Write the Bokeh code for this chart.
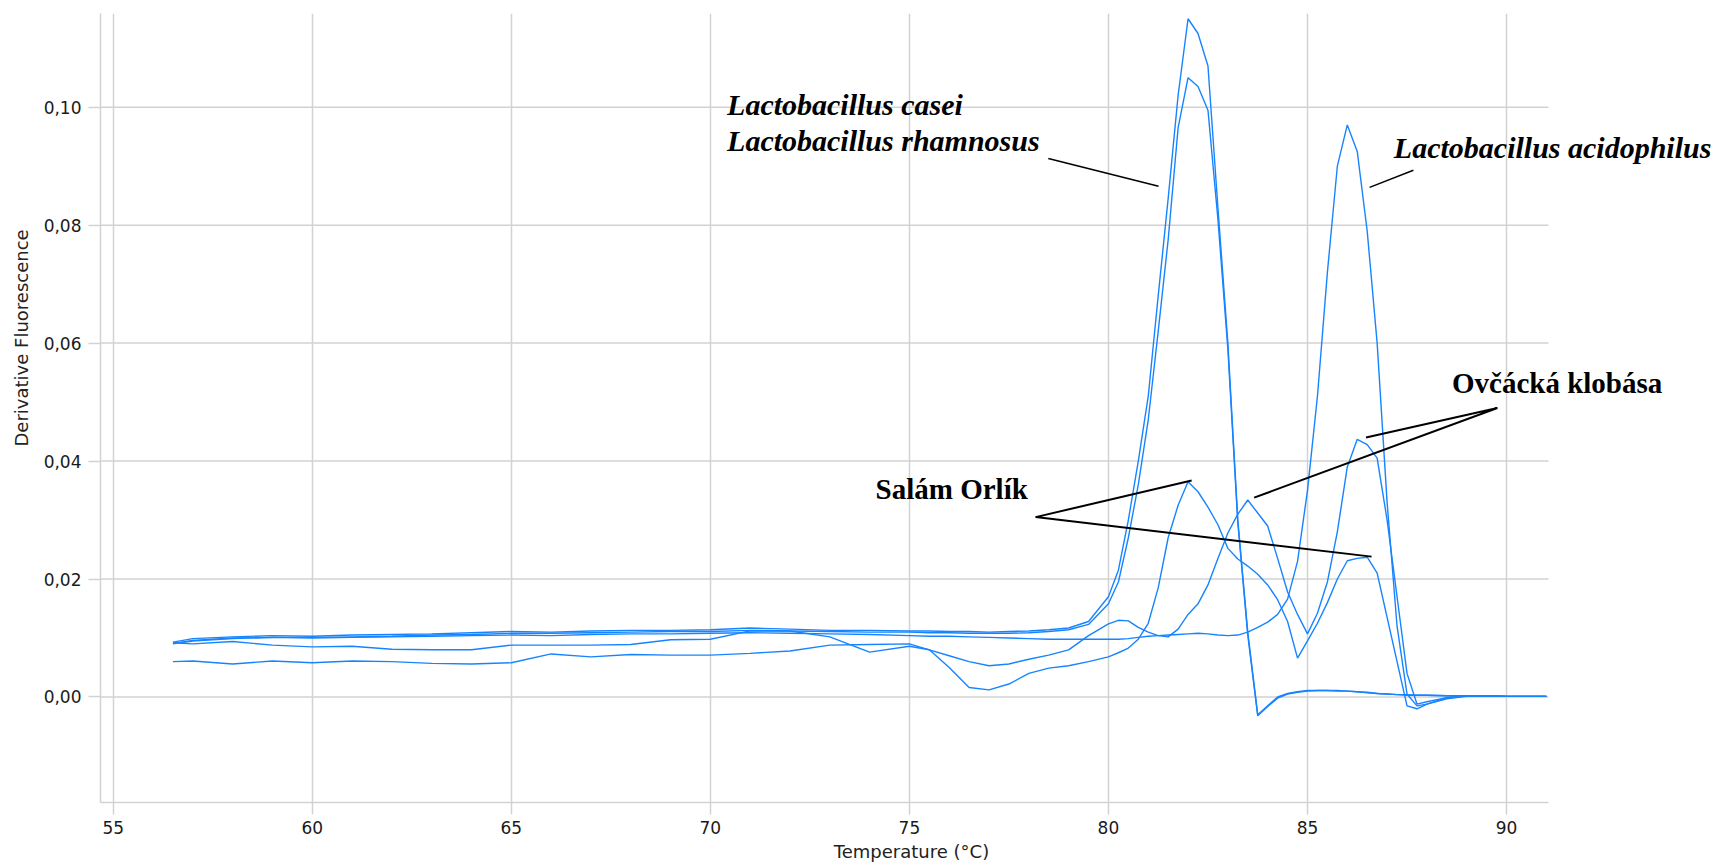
from bokeh.plotting import figure
from bokeh.models import Label, FixedTicker, CustomJSTickFormatter, Range1d, Title
from bokeh.embed import file_html
from bokeh.resources import INLINE

# ---------------- data ----------------
temperature = [56.5, 57, 58, 59, 60, 61, 62, 63, 64, 65, 66, 67, 68, 69, 70, 71, 72, 73, 74, 75,
               75.5, 76, 76.5, 77, 77.5, 78, 78.5, 79, 79.5, 80, 80.25, 80.5, 80.75, 81, 81.25,
               81.5, 81.75, 82, 82.25, 82.5, 82.75, 83, 83.25, 83.5, 83.75, 84, 84.25, 84.5, 84.75,
               85, 85.25, 85.5, 85.75, 86, 86.25, 86.5, 86.75, 87, 87.25, 87.5, 87.75, 88, 88.5,
               89, 89.5, 90, 91]

casei = [0.0093, 0.0099, 0.0102, 0.0104, 0.0103, 0.0105, 0.0106, 0.0107, 0.0109, 0.0111, 0.0110,
         0.0112, 0.0113, 0.0113, 0.0114, 0.0117, 0.0115, 0.0113, 0.0113, 0.0112,
         0.0112, 0.0111, 0.0111, 0.0110, 0.0111, 0.0112, 0.0114, 0.0117, 0.0128, 0.0170, 0.0215,
         0.0300, 0.0400, 0.0510, 0.0680, 0.0845, 0.1020, 0.1150, 0.1125, 0.1070, 0.0830, 0.0600,
         0.0300, 0.0110, -0.0030, -0.0015, 0.0000, 0.0006, 0.0009,
         0.0011, 0.0011, 0.0011, 0.0011, 0.0010, 0.0009, 0.0007, 0.0006, 0.0005, 0.0004, 0.0004,
         0.0003, 0.0003, 0.0002, 0.0002, 0.0002, 0.0001, 0.0001]

rhamnosus = [0.0090, 0.0095, 0.0099, 0.0101, 0.0101, 0.0102, 0.0103, 0.0105, 0.0106, 0.0108, 0.0108,
             0.0109, 0.0110, 0.0111, 0.0111, 0.0113, 0.0112, 0.0111, 0.0110, 0.0110,
             0.0109, 0.0109, 0.0108, 0.0108, 0.0108, 0.0109, 0.0111, 0.0114, 0.0123, 0.0158, 0.0195,
             0.0270, 0.0360, 0.0470, 0.0620, 0.0775, 0.0965, 0.1050, 0.1035, 0.0995, 0.0810, 0.0590,
             0.0295, 0.0105, -0.0032, -0.0016, -0.0002, 0.0005, 0.0008,
             0.0010, 0.0011, 0.0011, 0.0010, 0.0010, 0.0009, 0.0008, 0.0006, 0.0005, 0.0004, 0.0003,
             0.0003, 0.0003, 0.0002, 0.0001, 0.0002, 0.0001, 0.0001]

acidophilus = [0.0091, 0.0096, 0.0100, 0.0101, 0.0100, 0.0101, 0.0102, 0.0103, 0.0104, 0.0105, 0.0104,
               0.0106, 0.0107, 0.0107, 0.0108, 0.0109, 0.0108, 0.0107, 0.0106, 0.0104,
               0.0103, 0.0103, 0.0102, 0.0101, 0.0100, 0.0099, 0.0098, 0.0098, 0.0098, 0.0098, 0.0098,
               0.0099, 0.0101, 0.0103, 0.0104, 0.0105, 0.0106, 0.0107, 0.0108, 0.0107, 0.0105, 0.0104,
               0.0105, 0.0110, 0.0118, 0.0127, 0.0140, 0.0166, 0.0230,
               0.0350, 0.0510, 0.0720, 0.0900, 0.0970, 0.0925, 0.0790, 0.0600, 0.0330, 0.0120, 0.0005,
               -0.0015, -0.0012, -0.0001, 0.0002, 0.0002, 0.0001, 0.0001]

salam_orlik = [0.0060, 0.0061, 0.0056, 0.0061, 0.0058, 0.0061, 0.0060, 0.0057, 0.0056, 0.0058, 0.0073,
               0.0068, 0.0072, 0.0071, 0.0071, 0.0074, 0.0078, 0.0088, 0.0089, 0.0090,
               0.0080, 0.0050, 0.0016, 0.0012, 0.0022, 0.0040, 0.0049, 0.0053, 0.0060, 0.0068, 0.0075,
               0.0083, 0.0098, 0.0125, 0.0185, 0.0270, 0.0325, 0.0365, 0.0348, 0.0322, 0.0292, 0.0252,
               0.0234, 0.0222, 0.0208, 0.0190, 0.0165, 0.0128, 0.0066,
               0.0095, 0.0125, 0.0160, 0.0200, 0.0231, 0.0235, 0.0237, 0.0210, 0.0135, 0.0060, -0.0015,
               -0.0020, -0.0012, -0.0003, 0.0001, 0.0002, 0.0001, 0.0001]

ovcacka_klobasa = [0.0092, 0.0090, 0.0094, 0.0088, 0.0085, 0.0086, 0.0081, 0.0080, 0.0080, 0.0088, 0.0088,
                   0.0088, 0.0089, 0.0097, 0.0098, 0.0112, 0.0112, 0.0102, 0.0076, 0.0086,
                   0.0080, 0.0070, 0.0060, 0.0053, 0.0056, 0.0064, 0.0071, 0.0080, 0.0104, 0.0124, 0.0130,
                   0.0129, 0.0118, 0.0110, 0.0104, 0.0102, 0.0115, 0.0140, 0.0158, 0.0190, 0.0235, 0.0278,
                   0.0310, 0.0334, 0.0312, 0.0290, 0.0235, 0.0178, 0.0140,
                   0.0107, 0.0142, 0.0195, 0.0280, 0.0390, 0.0437, 0.0428, 0.0405, 0.0300, 0.0170, 0.0040,
                   -0.0012, -0.0008, -0.0001, 0.0002, 0.0002, 0.0001, 0.0001]

x_ticks = [55, 60, 65, 70, 75, 80, 85, 90]
y_ticks = [0.0, 0.02, 0.04, 0.06, 0.08, 0.10]

# pointer lines (data coordinates)
pointer_casei_x = [78.49, 81.26]
pointer_casei_y = [0.0913, 0.0866]
pointer_acid_x = [86.56, 87.66]
pointer_acid_y = [0.0864, 0.0893]
pointer_ovc_x = [86.47, 89.77, 83.66]
pointer_ovc_y = [0.0440, 0.0490, 0.0338]
pointer_salam_x = [82.09, 78.17, 86.61]
pointer_salam_y = [0.0367, 0.0305, 0.0238]

BLUE = "#1784ff"
GRID = "#d2d2d2"
X_MIN, X_AXIS_END, X_MAX = 54.681, 91.054, 95.425

p = figure(frame_width=1622, frame_height=789,
           min_border_left=100, min_border_right=0, min_border_top=13, min_border_bottom=60,
           x_range=Range1d(X_MIN, X_MAX), y_range=Range1d(-0.01789, 0.11589),
           output_backend="svg", toolbar_location=None)

p.background_fill_color = "white"
p.border_fill_color = "white"
p.outline_line_color = None

p.xaxis.ticker = FixedTicker(ticks=x_ticks)
p.yaxis.ticker = FixedTicker(ticks=y_ticks)
p.yaxis.formatter = CustomJSTickFormatter(code="return tick.toFixed(2).replace('.', ',');")
p.xaxis.bounds = (X_MIN, X_AXIS_END)

for ax in (p.xaxis[0], p.yaxis[0]):
    ax.axis_line_color = GRID
    ax.axis_line_width = 1.5
    ax.major_tick_line_color = GRID
    ax.major_tick_line_width = 1.5
    ax.major_tick_out = 12
    ax.major_tick_in = 0
    ax.minor_tick_line_color = None
    ax.major_label_text_font = "DejaVu Sans"
    ax.major_label_text_font_size = "17px"
    ax.major_label_text_color = "#1a1a1a"
p.xaxis.major_label_standoff = 6
p.yaxis.major_label_standoff = 7

p.xaxis.axis_label = "Temperature (°C)"
p.xaxis.axis_label_text_font = "DejaVu Sans"
p.xaxis.axis_label_text_font_size = "18px"
p.xaxis.axis_label_text_font_style = "normal"
p.xaxis.axis_label_text_color = "#222222"
p.xaxis.axis_label_standoff = 4

p.add_layout(Title(text="Derivative Fluorescence", align="left", offset=356,
                   vertical_align="middle", standoff=15, text_font="DejaVu Sans",
                   text_font_size="18px", text_font_style="normal",
                   text_color="#222222"), "left")

p.xgrid.grid_line_color = GRID
p.xgrid.grid_line_width = 1.5
p.ygrid.visible = False
# horizontal grid lines stop where the original plot area ends
p.segment(x0=X_MIN, x1=X_AXIS_END, y0=y_ticks, y1=y_ticks, line_color=GRID, line_width=1.5)

for series in (salam_orlik, ovcacka_klobasa, acidophilus, rhamnosus, casei):
    p.line(temperature, series, line_color=BLUE, line_width=1.4)

for xs, ys, w in ((pointer_casei_x, pointer_casei_y, 1.5), (pointer_acid_x, pointer_acid_y, 1.5),
                  (pointer_ovc_x, pointer_ovc_y, 2), (pointer_salam_x, pointer_salam_y, 2)):
    p.line(xs, ys, line_color="black", line_width=w)

def species(x, y, text):
    p.add_layout(Label(x=x, y=y, text=text, text_font="Liberation Serif",
                       text_font_style="bold italic", text_font_size="30px",
                       text_baseline="alphabetic", text_align="left", text_color="black"))

def sample(x, y, text):
    p.add_layout(Label(x=x, y=y, text=text, text_font="Liberation Serif",
                       text_font_style="bold", text_font_size="29px",
                       text_baseline="alphabetic", text_align="left", text_color="black"))

species(70.42, 0.1004, "Lactobacillus casei")
species(70.42, 0.0944, "Lactobacillus rhamnosus")
species(87.17, 0.0932, "Lactobacillus acidophilus")
sample(88.63, 0.0533, "Ovčácká klobása")
sample(74.15, 0.0353, "Salám Orlík")

open("out.html", "w").write(file_html(p, INLINE))
